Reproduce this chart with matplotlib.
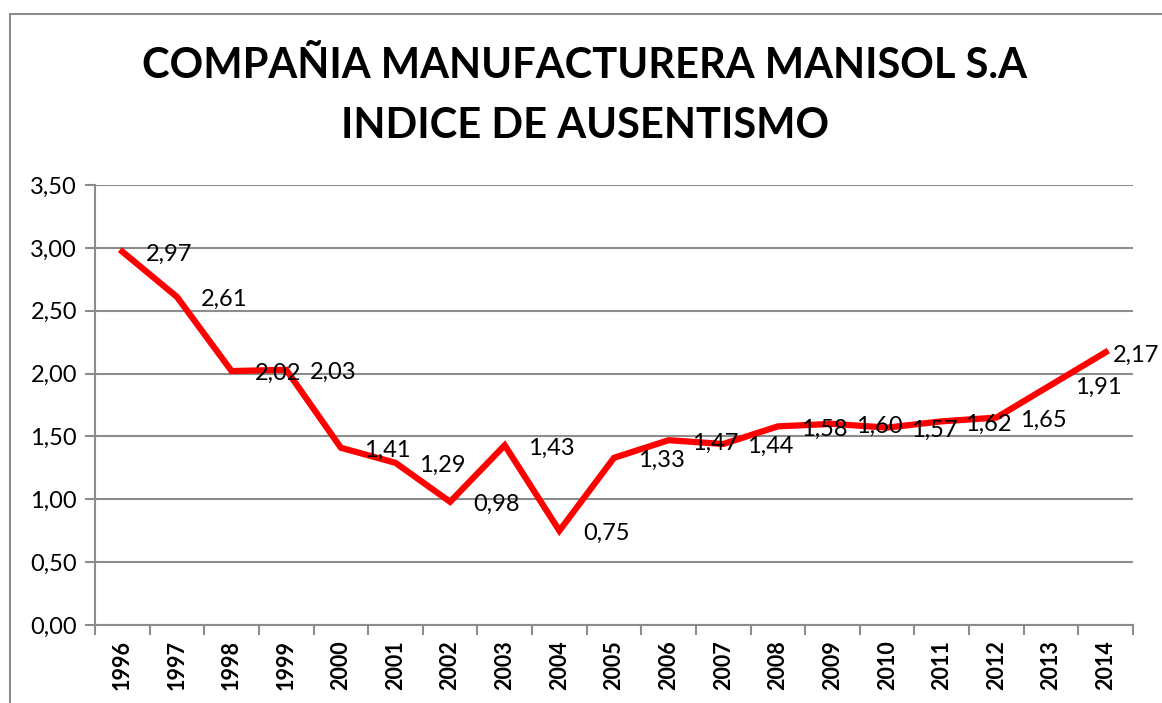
import matplotlib.pyplot as plt
from matplotlib.patches import Rectangle

plt.rcParams['font.family'] = ['Lato', 'DejaVu Sans']

years = ['1996', '1997', '1998', '1999', '2000', '2001', '2002', '2003', '2004', '2005',
         '2006', '2007', '2008', '2009', '2010', '2011', '2012', '2013', '2014']
indice = [2.97, 2.61, 2.02, 2.03, 1.41, 1.29, 0.98, 1.43, 0.75, 1.33,
          1.47, 1.44, 1.58, 1.60, 1.57, 1.62, 1.65, 1.91, 2.17]
y_ticks = [0.0, 0.5, 1.0, 1.5, 2.0, 2.5, 3.0, 3.5]

grey = '#8c8c8c'

fig = plt.figure(figsize=(11.62, 7.03), dpi=100)
ax = fig.add_axes([95 / 1162, 1 - 625 / 703, (1133 - 95) / 1162, (625 - 185) / 703])

# marco del grafico
fig.patches.append(Rectangle((10 / 1162, -0.1), 1.2, (703 - 14) / 703 + 0.1,
                             transform=fig.transFigure, fill=False,
                             edgecolor=grey, linewidth=1.5))

x = list(range(len(years)))
ax.plot(x, indice, color='#ff0000', linewidth=4.5, solid_joinstyle='miter', zorder=3)

for xi, v in zip(x, indice):
    # la ultima etiqueta queda pegada al punto para caber en el marco
    dx = 5 if xi == len(years) - 1 else 17
    ax.annotate(f'{v:.2f}'.replace('.', ','), (xi, v), xytext=(dx, -2),
                textcoords='offset points', ha='left', va='center',
                fontsize=17, color='black', zorder=4, annotation_clip=False)

ax.set_xlim(-0.5, len(years) - 0.5)
ax.set_ylim(0, 3.5)
ax.set_yticks(y_ticks)
ax.set_yticklabels([f'{t:.2f}'.replace('.', ',') for t in y_ticks], fontsize=17)
ax.yaxis.grid(True, color=grey, linewidth=1.5)
ax.set_axisbelow(True)

ax.set_xticks(x)
ax.set_xticklabels(years, rotation=90, fontsize=15.5, fontweight='bold')
ax.set_xticks([i - 0.5 for i in range(len(years) + 1)], minor=True)
ax.tick_params(axis='x', which='major', length=0, pad=11)
ax.tick_params(axis='x', which='minor', length=7, color=grey, width=1.5)
ax.tick_params(axis='y', length=7, color=grey, width=1.5, pad=6)

for s in ['top', 'right']:
    ax.spines[s].set_visible(False)
for s in ['left', 'bottom']:
    ax.spines[s].set_color(grey)
    ax.spines[s].set_linewidth(1.5)

fig.text(585 / 1162, 1 - 96 / 703, 'COMPAÑIA MANUFACTURERA MANISOL S.A\nINDICE DE AUSENTISMO',
         ha='center', va='center', fontsize=30, fontweight='bold', linespacing=1.72)

fig.savefig('out.png', dpi=100)
